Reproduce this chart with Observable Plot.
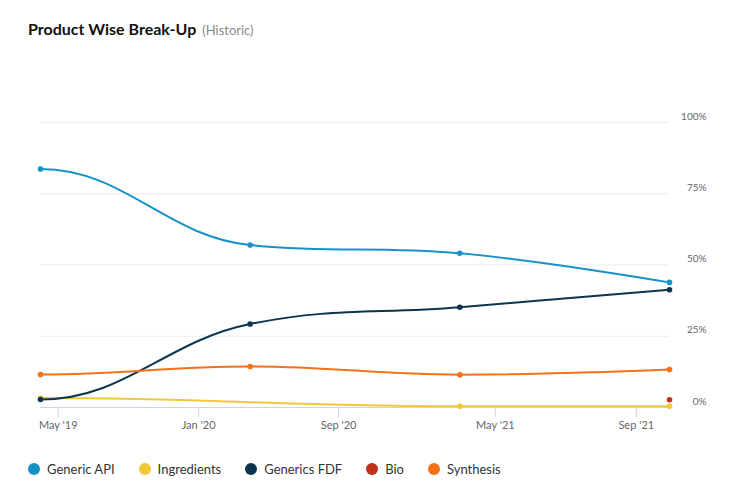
<!DOCTYPE html>
<html>
<head>
<meta charset="utf-8">
<script src="https://cdn.jsdelivr.net/npm/d3@7"></script>
<script src="https://cdn.jsdelivr.net/npm/@observablehq/plot@0.6"></script>
<style>
  html, body { margin: 0; padding: 0; background: #fff; }
  body { font-family: Lato, "Open Sans", sans-serif; }
  #wrap { position: relative; width: 748px; height: 492px; overflow: hidden; }
  #title { position: absolute; left: 28px; top: 19px; white-space: nowrap; }
  #title .main { font-size: 16px; font-weight: 700; color: #111; }
  #title .sub { font-size: 13px; color: #8a8a8a; margin-left: 6px; }
  #chart { position: absolute; left: 0; top: 80px; }
  #legend { position: absolute; left: 28px; top: 461px; display: flex; align-items: center; font-size: 13px; color: #333; white-space: nowrap; }
  #legend .item { display: flex; align-items: center; margin-right: 24px; }
  #legend .sw { width: 12px; height: 12px; border-radius: 50%; margin-right: 7px; }
  svg [aria-label^="x-axis"] line, svg [aria-label="x-axis tick"] path { stroke: #ccd6eb; }
</style>
</head>
<body>
<div id="wrap">
  <div id="title"><span class="main">Product Wise Break-Up</span><span class="sub">(Historic)</span></div>
  <div id="chart"></div>
  <div id="legend"></div>
</div>
<script>
// ---- data ----
const periods = ["2019-03-31", "2020-03-31", "2021-03-31", "2021-09-30"];
const seriesNames = ["Generic API", "Ingredients", "Generics FDF", "Bio", "Synthesis"];
const seriesColors = ["#1792c4", "#efc93a", "#0c3650", "#c0301c", "#f47019"];
const genericAPI = [83.7, 57.0, 54.1, 43.9];
const ingredients = [3.3, null, 0.4, 0.4];
const genericsFDF = [2.8, 29.3, 35.2, 41.3];
const bio = [null, null, null, 2.7];
const synthesis = [11.6, 14.4, 11.5, 13.3];
const xTickDates = ["2019-05-01", "2020-01-01", "2020-09-01", "2021-05-01", "2021-09-01"];
const yTicks = [0, 25, 50, 75, 100];

// ---- build table (nulls skipped, lines connect across them) ----
const seriesValues = [genericAPI, ingredients, genericsFDF, bio, synthesis];
const dates = periods.map(d => new Date(d + "T00:00:00Z"));
const rows = [];
seriesNames.forEach((name, s) => {
  seriesValues[s].forEach((v, i) => {
    if (v != null) rows.push({series: name, date: dates[i], value: v});
  });
});

// Highcharts-like spline curve (flat tangent at the first point)
function hcSpline(context) {
  let pts = [];
  return {
    areaStart() {}, areaEnd() {},
    lineStart() { pts = []; },
    point(x, y) { pts.push([+x, +y]); },
    lineEnd() {
      const n = pts.length;
      if (!n) return;
      context.moveTo(pts[0][0], pts[0][1]);
      const sm = 1.5, den = sm + 1;
      const rc = new Array(n);
      if (n > 1) rc[0] = [(sm * pts[0][0] + pts[1][0]) / den, pts[0][1]];
      for (let i = 1; i < n; i++) {
        const [x, y] = pts[i];
        let lcx = x, lcy = y;
        if (i < n - 1) {
          const [lx, ly] = pts[i - 1], [nx, ny] = pts[i + 1];
          lcx = (sm * x + lx) / den; lcy = (sm * y + ly) / den;
          let rcx = (sm * x + nx) / den, rcy = (sm * y + ny) / den;
          let corr = 0;
          if (rcx !== lcx) corr = ((rcy - lcy) * (rcx - x)) / (rcx - lcx) + y - rcy;
          lcy += corr; rcy += corr;
          if (lcy > ly && lcy > y) { lcy = Math.max(ly, y); rcy = 2 * y - lcy; }
          else if (lcy < ly && lcy < y) { lcy = Math.min(ly, y); rcy = 2 * y - lcy; }
          if (rcy > ny && rcy > y) { rcy = Math.max(ny, y); lcy = 2 * y - rcy; }
          else if (rcy < ny && rcy < y) { rcy = Math.min(ny, y); lcy = 2 * y - rcy; }
          rc[i] = [rcx, rcy];
        }
        const prev = rc[i - 1] || pts[i - 1];
        context.bezierCurveTo(prev[0], prev[1], lcx, lcy, x, y);
      }
    }
  };
}

const W = 748, H = 360, mL = 40, mR = 79, mT = 42, mB = 33;
// ordinal-like placement: periods evenly spaced, time interpolated between them
const xRange = dates.map((d, i) => mL + i * (W - mL - mR) / (dates.length - 1));
const fmt = d3.utcFormat("%b '%y");

const chart = Plot.plot({
  width: W, height: H,
  marginLeft: mL, marginRight: mR, marginTop: mT, marginBottom: mB,
  style: {fontFamily: "Lato, 'Open Sans', sans-serif", fontSize: "11px", color: "#666", background: "transparent", overflow: "visible"},
  x: {type: "utc", domain: dates, range: xRange, ticks: xTickDates.map(d => new Date(d + "T00:00:00Z")), tickFormat: fmt, tickSize: 10, tickPadding: 4, label: null},
  y: {domain: [0, 100], axis: null},
  color: {domain: seriesNames, range: seriesColors},
  marks: [
    Plot.ruleY(yTicks.filter(t => t > 0), {stroke: "#ebebeb", strokeWidth: 1}),
    Plot.ruleY([0], {stroke: "#ccd6eb", strokeWidth: 1}),
    Plot.text(yTicks, {y: d => d, text: d => d + "%", frameAnchor: "right", dx: 37, dy: -6, textAnchor: "end", fill: "#666", fontSize: 10}),
    Plot.line(rows, {x: "date", y: "value", z: "series", stroke: "series", strokeWidth: 2, curve: hcSpline}),
    Plot.dot(rows, {x: "date", y: "value", fill: "series", r: 2.8})
  ]
});
document.getElementById("chart").appendChild(chart);

// legend
const legend = d3.select("#legend");
seriesNames.forEach((name, i) => {
  const item = legend.append("div").attr("class", "item");
  item.append("div").attr("class", "sw").style("background", seriesColors[i]);
  item.append("span").text(name);
});
</script>
</body>
</html>
